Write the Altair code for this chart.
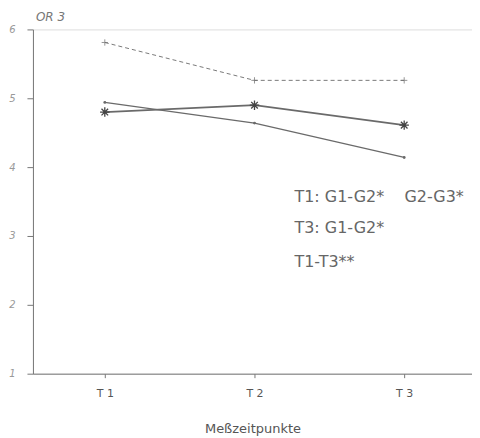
import altair as alt
import pandas as pd

times = [1, 2, 3]
time_labels = ["T 1", "T 2", "T 3"]
series_names = ["G_dashed", "G_dot", "G_star"]
vals_dashed = [5.81, 5.26, 5.26]
vals_dot = [4.94, 4.64, 4.14]
vals_star = [4.80, 4.90, 4.61]

NB = "\u00a0"
ann_text = ["T1:" + NB + "G1-G2*" + NB * 4 + "G2-G3*", "T3:" + NB + "G1-G2*", "T1-T3**"]
ann_x = [2.267, 2.267, 2.267]
ann_y = [3.565, 3.116, 2.623]

rows = []
for name, vals in zip(series_names, [vals_dashed, vals_dot, vals_star]):
    for t, v in zip(times, vals):
        rows.append({"series": name, "t": t, "v": v})
df = pd.DataFrame(rows)
ann = pd.DataFrame({"text": ann_text, "x": ann_x, "y": ann_y})

GRAY = "#6a6a6a"
xs = alt.Scale(domain=[0.52, 3.453], nice=False, zero=False)
ys = alt.Scale(domain=[1, 6], nice=False, zero=False)

xenc = alt.X("t:Q", scale=xs,
             axis=alt.Axis(values=times, labelExpr="'T  ' + datum.value",
                           title="Meßzeitpunkte", titleFontSize=13, titleFontWeight="normal",
                           titleColor="#555", titlePadding=24, labelColor="#555",
                           labelFontSize=11, labelPadding=10, tickSize=4,
                           domainColor="#777", tickColor="#777", grid=False,
                           titleFont="DejaVu Sans", labelFont="DejaVu Sans"))
yenc = alt.Y("v:Q", scale=ys,
             axis=alt.Axis(values=[1, 2, 3, 4, 5, 6], format="d", title=None,
                           labelFontStyle="italic",
                           labelColor="#999", labelFontSize=10, labelPadding=12,
                           tickSize=6, domainColor="#777", tickColor="#777", grid=False,
                           labelFont="DejaVu Sans"))

dashed = alt.Chart(df[df.series == "G_dashed"]).mark_line(
    color=GRAY, strokeWidth=0.9, strokeDash=[4, 3]).encode(x=xenc, y=yenc)
dashed_pts = alt.Chart(df[df.series == "G_dashed"]).mark_point(
    shape="M-1,0L1,0M0,-1L0,1", color=GRAY, size=40, filled=False, strokeWidth=1,
).encode(x="t:Q", y="v:Q")

dot_line = alt.Chart(df[df.series == "G_dot"]).mark_line(
    color=GRAY, strokeWidth=1.3).encode(x="t:Q", y="v:Q")
dot_pts = alt.Chart(df[df.series == "G_dot"]).mark_point(
    shape="circle", color=GRAY, size=8, filled=True, opacity=1).encode(x="t:Q", y="v:Q")

star_line = alt.Chart(df[df.series == "G_star"]).mark_line(
    color=GRAY, strokeWidth=1.8).encode(x="t:Q", y="v:Q")
star_pts = alt.Chart(df[df.series == "G_star"]).mark_point(
    shape="M-1,0L1,0M0,-1L0,1M-0.7,-0.7L0.7,0.7M-0.7,0.7L0.7,-0.7",
    color="#444", size=90, filled=False, strokeWidth=1.3, opacity=1).encode(x="t:Q", y="v:Q")

texts = alt.Chart(ann).mark_text(
    align="left", baseline="middle", fontSize=16, color="#666", font="DejaVu Sans"
).encode(x="x:Q", y="y:Q", text="text:N")

title_txt = alt.Chart(pd.DataFrame({"t": ["OR  3"]})).mark_text(
    align="left", baseline="middle", fontSize=12, color="#777", fontStyle="italic",
    font="DejaVu Sans").encode(x=alt.value(3), y=alt.value(-12), text="t:N")

chart = alt.layer(dashed, dashed_pts, dot_line, dot_pts, star_line, star_pts, texts, title_txt).properties(
    width=440, height=345,
    autosize=alt.AutoSizeParams(type="none"),
    padding={"left": 25, "top": 21, "right": 0, "bottom": 64},
).configure_view(stroke=None).configure(background="white")

chart.save("out.html", embed_options={"renderer": "svg", "actions": False})
